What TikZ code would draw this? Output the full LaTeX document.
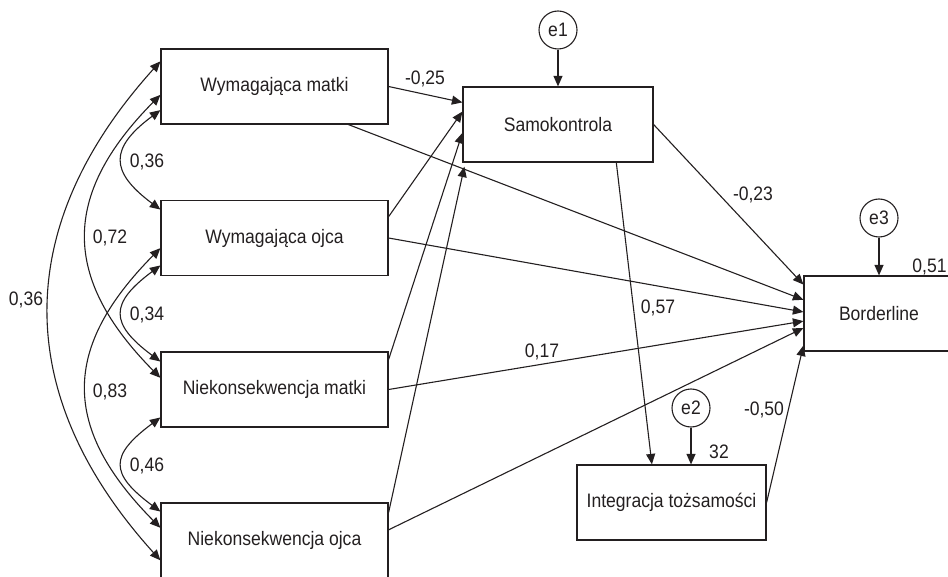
\documentclass[tikz,border=0pt]{standalone}
\usepackage{fontspec}
\setmainfont[FakeStretch=0.9]{Liberation Sans}
\usetikzlibrary{arrows.meta,calc}
\definecolor{ink}{HTML}{231F20}
\begin{document}
\begin{tikzpicture}[x=1pt,y=-1pt,
  every node/.style={font=\fontsize{19.5pt}{22pt}\selectfont, text=ink},
  box/.style={draw=ink, line width=1.2pt, minimum height=75pt, inner sep=0pt},
  err/.style={draw=ink, circle, line width=1.1pt, minimum size=38pt, inner sep=0pt},
  path/.style={draw=ink, line width=1.1pt, -{Triangle[length=10.5pt,width=9pt]}},
  cov/.style={draw=ink, line width=1.1pt, {Triangle[length=10.5pt,width=9pt]}-{Triangle[length=10.5pt,width=9pt]}},
  lab/.style={inner sep=0pt, anchor=base}]
\useasboundingbox (0,0) rectangle (948,577);
\clip (0,0) rectangle (948,577);

% boxes
\node[box, minimum width=227pt] (wm) at (274.5,86.5) {Wymagająca matki};
\node[box, minimum width=227pt] (wo) at (274.5,238) {Wymagająca ojca};
\node[box, minimum width=227pt] (nm) at (274.5,389.5) {Niekonsekwencja matki};
\node[box, minimum width=227pt] (no) at (274.5,540.5) {Niekonsekwencja ojca};
\node[box, minimum width=190pt] (sk) at (558,124.5) {Samokontrola};
\node[box, minimum width=150pt] (bl) at (879,313.5) {Borderline};
\node[box, minimum width=189pt] (it) at (671.5,502.5) {Integracja tożsamości};

% error terms
\node[err] (e1) at (558,30) {e1};
\node[err] (e3) at (879,218) {e3};
\node[err] (e2) at (691,408) {e2};

\draw[path] (e1) -- (sk);
\draw[path] (e3) -- (bl);
\draw[path] (e2) -- (e2 |- it.north);

% paths
\draw[path] (wm.east) -- ($(sk.north west)!0.21!(sk.south west)$);
\draw[path] ($(wm.south west)!0.824!(wm.south east)$) -- ($(bl.north west)!0.32!(bl.south west)$);
\draw[path] ($(wo.north east)!0.22!(wo.south east)$) -- ($(sk.north west)!0.33!(sk.south west)$);
\draw[path] (wo.east) -- ($(bl.north west)!0.48!(bl.south west)$);
\draw[path] ($(nm.north east)!0.107!(nm.south east)$) -- ($(sk.north west)!0.61!(sk.south west)$);
\draw[path] (nm.east) -- ($(bl.north west)!0.6!(bl.south west)$);
\draw[path] ($(no.north east)!0.133!(no.south east)$) -- ($(sk.south west)+(2,4)$);
\draw[path] ($(no.north east)!0.36!(no.south east)$) -- ($(bl.north west)!0.69!(bl.south west)$);
\draw[path] (sk.east) -- ($(bl.north west)!0.12!(bl.south west)$);
\draw[path] ($(sk.south west)!0.805!(sk.south east)$) -- ($(it.north west)!0.397!(it.north east)$);
\draw[path] (it.east) -- ($(bl.north west)!0.92!(bl.south west)$);

% covariances
\draw[cov] ($(wm.north west)!0.81!(wm.south west)$) .. controls +(-51,38) and +(-51,-38) .. ($(wo.north west)!0.127!(wo.south west)$);
\draw[cov] ($(wm.north west)!0.61!(wm.south west)$) .. controls +(-99,100) and +(-99,-100) .. ($(nm.north west)!0.347!(nm.south west)$);
\draw[cov] ($(wm.north west)!0.17!(wm.south west)$) .. controls +(-149,165) and +(-149,-165) .. ($(no.north west)!0.76!(no.south west)$);
\draw[cov] ($(wo.north west)!0.86!(wo.south west)$) .. controls +(-51,38) and +(-51,-38) .. ($(nm.north west)!0.133!(nm.south west)$);
\draw[cov] ($(wo.north west)!0.633!(wo.south west)$) .. controls +(-99,100) and +(-99,-100) .. ($(no.north west)!0.333!(no.south west)$);
\draw[cov] ($(nm.north west)!0.867!(nm.south west)$) .. controls +(-51,38) and +(-51,-38) .. ($(no.north west)!0.12!(no.south west)$);

% labels
\node[lab] (l1) at (425,85) {-0,25};
\node[lab] (l2) at (753,201) {-0,23};
\node[lab] (l3) at (658,314) {0,57};
\node[lab] (l4) at (542,357) {0,17};
\node[lab] (l5) at (764,415) {-0,50};
\node[lab] (l6) at (719,458) {32};
\node[lab] (l7) at (929.5,273) {0,51};
\node[lab] (c1) at (147,168) {0,36};
\node[lab] (c2) at (110,244) {0,72};
\node[lab] (c3) at (26,306) {0,36};
\node[lab] (c4) at (147,321) {0,34};
\node[lab] (c5) at (110,397) {0,83};
\node[lab] (c6) at (147,471) {0,46};
\end{tikzpicture}
\end{document}
